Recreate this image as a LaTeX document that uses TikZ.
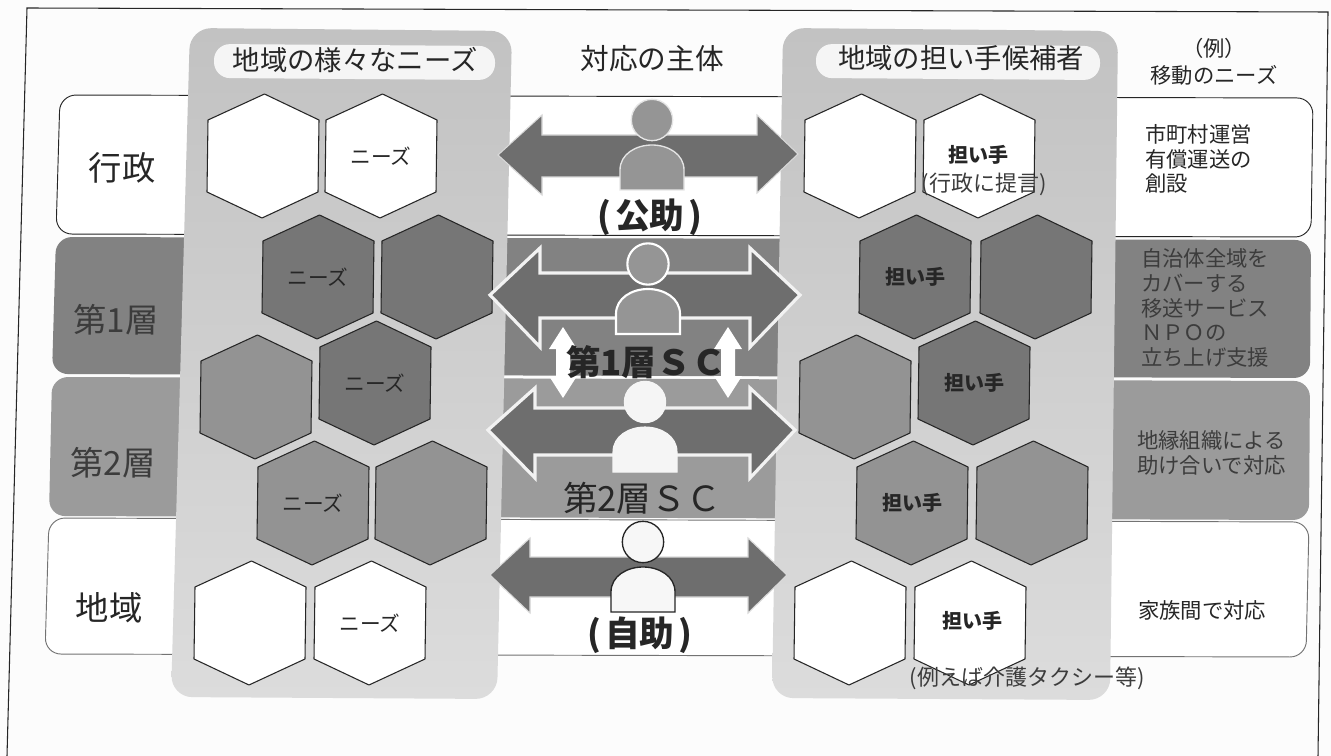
\documentclass[tikz,border=0pt]{standalone}
\usepackage{fontspec}
\setmainfont{Noto Sans CJK JP}
\definecolor{paper}{HTML}{FCFCFC}
\definecolor{ink}{HTML}{262626}
\definecolor{softink}{HTML}{3C3C3C}
\definecolor{darkband}{HTML}{828282}
\definecolor{midband}{HTML}{9B9B9B}
\definecolor{darkhex}{HTML}{767676}
\definecolor{midhex}{HTML}{939393}
\definecolor{arrowgray}{HTML}{6E6E6E}
\definecolor{persongray}{HTML}{959595}
\definecolor{paneltop}{HTML}{C2C2C2}
\definecolor{panelbottom}{HTML}{DCDCDC}
\tikzset{
  x=0.75pt,y=-0.75pt,
  bandshape/.style={rounded corners=12pt,line width=0.7pt},
  panelshape/.style={rounded corners=16pt,top color=paneltop,bottom color=panelbottom,draw=none},
  hexline/.style={draw=ink,line width=0.8pt,line join=round},
  hexlabel/.style={font=\fontsize{15.5}{18}\selectfont,text=ink,inner sep=0pt},
  hexlabelbold/.style={font=\fontsize{15}{18}\selectfont\bfseries,text=ink,inner sep=0pt},
  titletext/.style={font=\fontsize{20.5}{24}\selectfont,text=ink,inner sep=0pt},
  rowlabel/.style={font=\fontsize{25}{30}\selectfont,text=ink,inner sep=0pt},
  sidetext/.style={font=\fontsize{16}{18.5}\selectfont,text=ink,inner sep=0pt,align=left,anchor=west},
  bigarrow/.style={fill=arrowgray,draw=white!95!black,line width=2.4pt,line join=miter},
  softarrow/.style={fill=arrowgray,draw=white!85!black,line width=0.8pt,line join=miter},
  updown/.style={fill=white,draw=none},
  sclabel/.style={font=\fontsize{26}{30}\selectfont,text=ink,inner sep=0pt},
  sclabelbold/.style={font=\fontsize{26}{30}\selectfont\bfseries,text=ink,inner sep=0pt},
  note/.style={font=\fontsize{16.5}{19}\selectfont,text=softink,inner sep=0pt},
}
\newcommand{\hexcell}[5]{%
  \draw[hexline,fill=#4,shift={(#2,#3)}] (1.5,-62)--(56,-36)--(55,36)--(-1,62)--(-56,36)--(-55,-36)--cycle;
  \node[hexlabel] (#1) at (#2,#3) {#5};}
\newcommand{\boldhexcell}[5]{%
  \draw[hexline,fill=#4,shift={(#2,#3)}] (1.5,-62)--(56,-36)--(55,36)--(-1,62)--(-56,36)--(-55,-36)--cycle;
  \node[hexlabelbold] (#1) at (#2,#3) {#5};}
% name, x, y (head centre), fill, outline, line width
\newcommand{\personfig}[6]{%
  \draw[fill=#4,draw=#5,line width=#6,shift={(#2,#3)}]
    (-32,70) -- (-32,50) .. controls (-32,34) and (-16,25) .. (0,25)
    .. controls (16,25) and (32,34) .. (32,50) -- (32,70) -- cycle;
  \node[circle,minimum size=31pt,inner sep=0pt,fill=#4,draw=#5,line width=#6] (#1) at (#2,#3) {};}
\newcommand{\dblarrow}[3]{% x, top, bottom
  \path[updown,shift={(#1,0)}] (0,#2) -- (14,#2+22) -- (7,#2+22) -- (7,#3-22) -- (14,#3-22)
    -- (0,#3) -- (-14,#3-22) -- (-7,#3-22) -- (-7,#2+22) -- (-14,#2+22) -- cycle;}
\begin{document}
\begin{tikzpicture}
\useasboundingbox (0,0) rectangle (1331,756);
\fill[paper] (0,0) rectangle (1331,756);
% frame
\draw[ink,line width=0.8pt] (7,756) -- (27,8) -- (1328,12) -- (1318,756);
% bands
\draw[bandshape,fill=white,draw=ink] (60,95) -- (1313,98) -- (1311,237) -- (56,234) -- cycle;
\fill[bandshape,fill=darkband] (56,237) -- (1311,240) -- (1310,378) -- (52,374) -- cycle;
\fill[bandshape,fill=midband] (52,377) -- (1310,381) -- (1309,520) -- (49,516) -- cycle;
\draw[bandshape,fill=white,draw=black!55] (49,518) -- (1309,522) -- (1306,657) -- (45,654) -- cycle;
% panels
\path[panelshape] (190,28) -- (512,31) -- (497,699) -- (171,697) -- cycle;
\path[panelshape] (783,28) -- (1118,31) -- (1110,700) -- (772,698) -- cycle;
% panel titles
\path[fill=white!96!black,rounded corners=12pt] (214,44) -- (495,46) -- (495,80) -- (214,78) -- cycle;
\node[titletext] (needsTitle) at (355,60) {地域の様々なニーズ};
\path[fill=white!96!black,rounded corners=12pt] (816,44) -- (1100,46) -- (1100,80) -- (816,78) -- cycle;
\node[titletext] (carerTitle) at (961,58) {地域の担い手候補者};
\node[font=\fontsize{21.5}{24}\selectfont,text=ink,inner sep=0pt] (actorTitle) at (652,59) {対応の主体};
\node[font=\fontsize{16}{18.5}\selectfont,text=ink,inner sep=0pt,align=center] (exampleTitle) at (1214,62) {（例）\\[2pt]移動のニーズ};
% row labels
\node[rowlabel] (gyosei) at (122,168) {行政};
\node[rowlabel,text=softink] (layerOne) at (116,320) {第1層};
\node[rowlabel,text=softink] (layerTwo) at (113,463) {第2層};
\node[rowlabel] (chiiki) at (109,608) {地域};
% left hexagons
\hexcell{n1}{263}{156}{white}{}
\hexcell{n2}{381}{156}{white}{ニーズ}
\hexcell{n3}{318}{277}{darkhex}{ニーズ}
\hexcell{n4}{437}{277}{darkhex}{}
\hexcell{n5}{256}{397}{midhex}{}
\hexcell{n6}{375}{383}{darkhex}{ニーズ}
\hexcell{n7}{313}{503}{midhex}{ニーズ}
\hexcell{n8}{431}{503}{midhex}{}
\hexcell{n9}{250}{623}{white}{}
\hexcell{n10}{370}{623}{white}{ニーズ}
% right hexagons
\hexcell{c1}{860}{156}{white}{}
\boldhexcell{c2}{979}{156}{white}{}
\boldhexcell{c3}{915}{277}{darkhex}{担い手}
\hexcell{c4}{1036}{277}{darkhex}{}
\hexcell{c5}{855}{397}{midhex}{}
\boldhexcell{c6}{974}{383}{darkhex}{担い手}
\boldhexcell{c7}{912}{503}{midhex}{担い手}
\hexcell{c8}{1032}{503}{midhex}{}
\hexcell{c9}{850}{623}{white}{}
\boldhexcell{c10}{970}{623}{white}{}
\node[hexlabelbold] (c2a) at (978,155) {担い手};
\node[note] (c2b) at (984,184) {(行政に提言)};
\node[hexlabelbold] (c10a) at (972,621) {担い手};
\node[note] (c10b) at (1027,678) {(例えば介護タクシー等)};
% up-down arrows
\dblarrow{563}{327}{398}
\dblarrow{728}{327}{398}
% big arrows
\draw[softarrow] (498,155) -- (542,115) -- (542,135) -- (757,135) -- (757,115) -- (798,154) -- (757,193) -- (757,177) -- (542,177) -- (542,195) -- cycle;
\draw[bigarrow] (490,295) -- (540,248) -- (540,273) -- (750,273) -- (750,248) -- (800,295) -- (750,347) -- (750,318) -- (540,318) -- (540,347) -- cycle;
\draw[bigarrow] (488,430) -- (535,388) -- (535,408) -- (750,408) -- (750,388) -- (795,430) -- (750,478) -- (750,455) -- (535,455) -- (535,478) -- cycle;
\draw[softarrow] (490,575) -- (530,538) -- (530,557) -- (748,557) -- (748,538) -- (787,575) -- (748,613) -- (748,597) -- (530,597) -- (530,613) -- cycle;
% persons
\personfig{p1}{652}{120}{persongray}{white!90!black}{1pt}
\personfig{p2}{648}{264}{persongray}{white}{1.6pt}
\personfig{p3}{645}{402}{white!96!black}{white!96!black}{0.8pt}
\personfig{p4}{643}{542}{white!97!black}{ink}{1pt}
% person labels
\node[sclabelbold] (koujo) at (650,217) {(\kern.12em 公助\kern.12em )};
\node[sclabel,font=\fontsize{26}{30}\selectfont\bfseries] (scOne) at (646,362) {第1層ＳＣ};
\node[sclabel] (scTwo) at (642,498) {第2層ＳＣ};
\node[sclabelbold] (jijo) at (640,635) {(\kern.12em 自助\kern.12em )};
% right column texts
\node[sidetext,text=ink] (sideA) at (1145,159) {市町村運営\\有償運送の\\創設};
\node[sidetext,text=softink] (sideB) at (1141,308) {自治体全域を\\カバーする\\移送サービス\\ＮＰＯの\\立ち上げ支援};
\node[sidetext,text=softink] (sideC) at (1137,453) {地縁組織による\\助け合いで対応};
\node[sidetext] (sideD) at (1138,610) {家族間で対応};
\end{tikzpicture}
\end{document}
